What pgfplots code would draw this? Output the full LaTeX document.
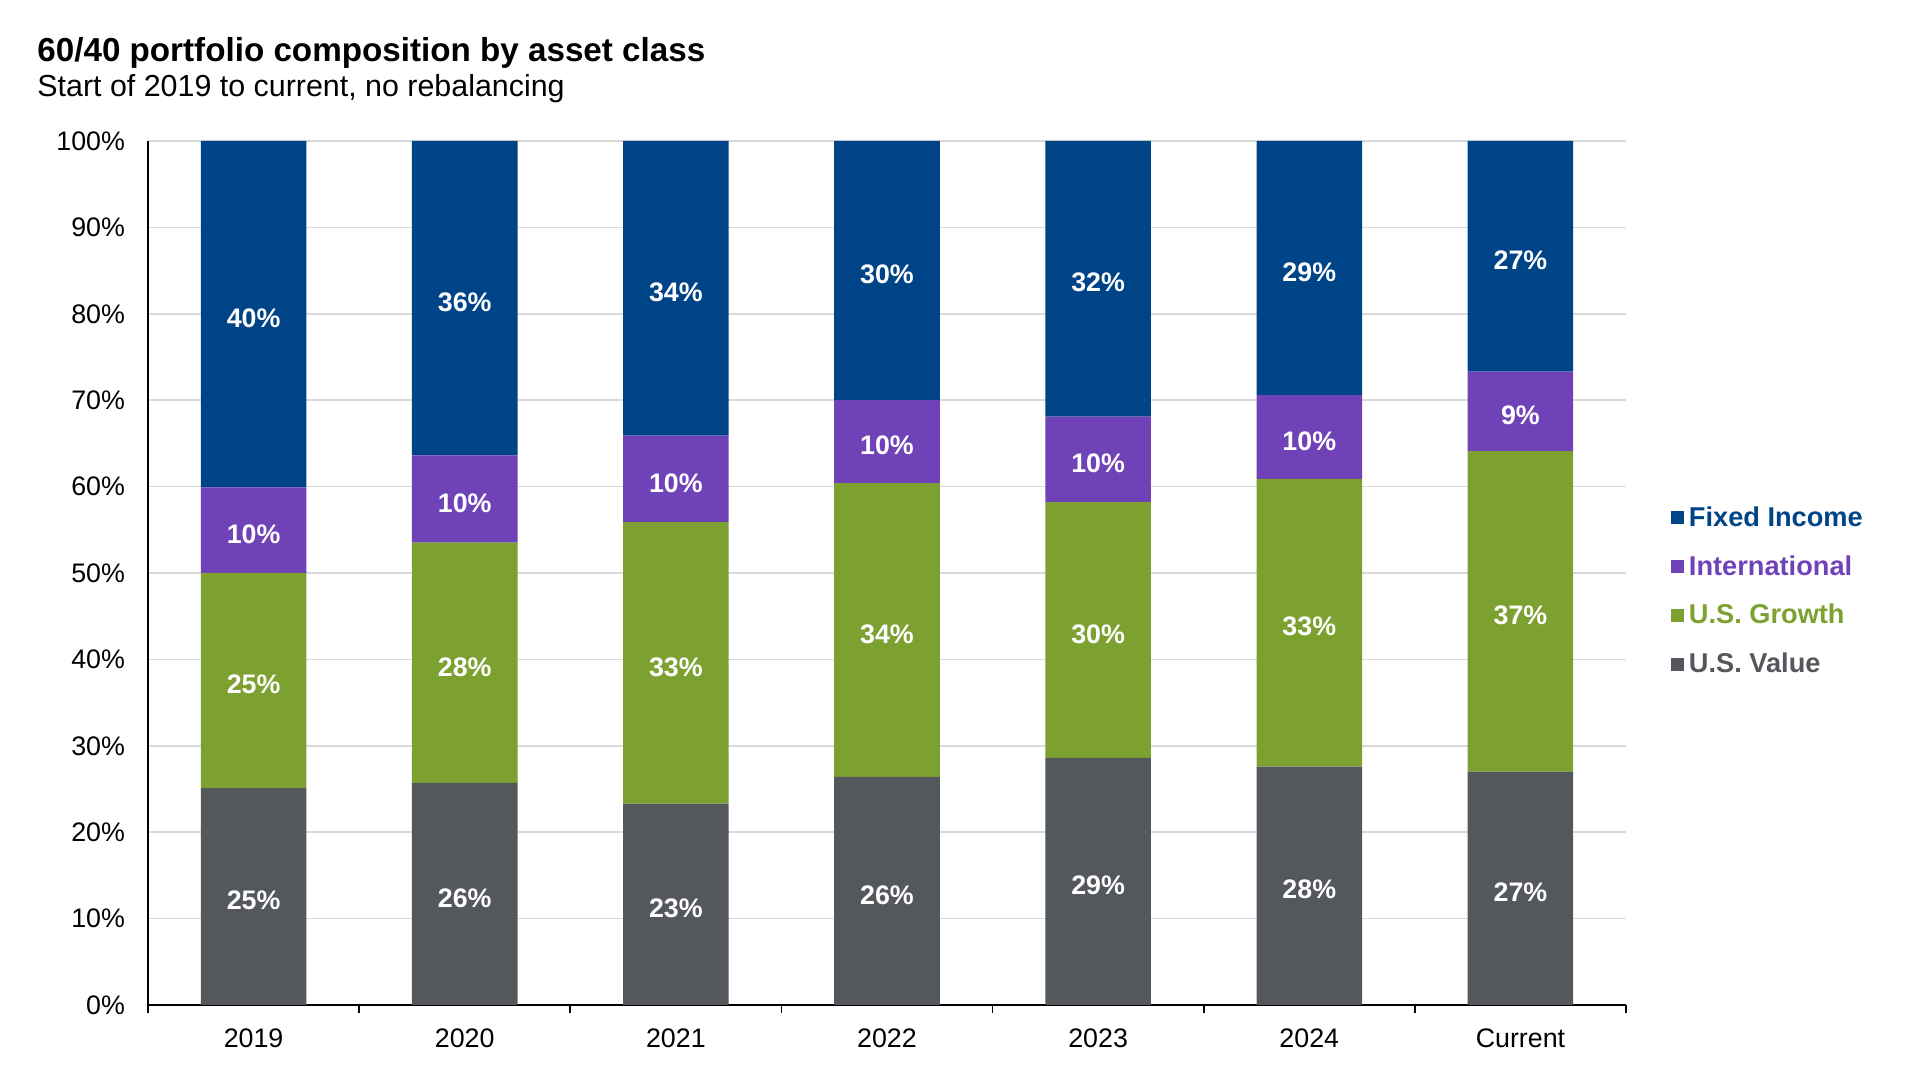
\documentclass[border=0pt]{standalone}
\usepackage{pgfplots}
\pgfplotsset{compat=1.18}
\usepackage{pgfplotstable}
\usepackage{fontspec}
\setmainfont{Liberation Sans}

\definecolor{fixedc}{HTML}{004488}
\definecolor{intlc}{HTML}{7042B8}
\definecolor{growthc}{HTML}{7DA130}
\definecolor{valuec}{HTML}{54575B}
\definecolor{gridc}{HTML}{D9D9D9}

% segment shares, in % of the portfolio
\pgfplotstableread{
x value growth intl fixed
0 25.1 24.9  9.9 40.1
1 25.7 27.8 10.1 36.4
2 23.3 32.6 10.0 34.1
3 26.4 34.0  9.6 30.0
4 28.6 29.6  9.9 31.9
5 27.6 33.3  9.7 29.4
6 27.0 37.1  9.2 26.7
}\shares

% label positions (middle of each segment) and label text
\pgfplotstableread{
x y lab
0 12.55 25
0 37.55 25
0 54.95 10
0 79.95 40
1 12.85 26
1 39.60 28
1 58.55 10
1 81.80 36
2 11.65 23
2 39.60 33
2 60.90 10
2 82.95 34
3 13.20 26
3 43.40 34
3 65.20 10
3 85.00 30
4 14.30 29
4 43.40 30
4 63.15 10
4 84.05 32
5 13.80 28
5 44.25 33
5 65.75 10
5 85.30 29
6 13.50 27
6 45.55 37
6 68.70 9
6 86.65 27
}\labels

\pgfplotsset{
  frame/.style={
    at={(74pt,37pt)}, anchor=south west, scale only axis,
    width=739pt, height=432pt,
    xmin=-0.5, xmax=6.5, ymin=0, ymax=100,
  }
}

\begin{document}
\begin{tikzpicture}
\path (0,0) rectangle (960pt,539.5pt);
\node[anchor=base west, inner sep=0pt, font=\bfseries\fontsize{16.6}{19}\selectfont] at (18.5pt,508.5pt) {60/40 portfolio composition by asset class};
\node[anchor=base west, inner sep=0pt, font=\fontsize{15.2}{18}\selectfont] at (18.5pt,491pt) {Start of 2019 to current, no rebalancing};

\begin{axis}[
  frame,
  ybar stacked,
  bar width=0.5,
  xtick={0,...,6},
  xticklabels={2019,2020,2021,2022,2023,2024,Current},
  minor xtick={-0.5,0.5,...,6.5},
  ytick={0,10,...,100},
  yticklabels={0\%,10\%,20\%,30\%,40\%,50\%,60\%,70\%,80\%,90\%,100\%},
  major tick length=0pt,
  minor tick length=4pt,
  tick align=outside,
  axis x line*=bottom,
  axis y line*=left,
  axis line style={-, black, line width=1pt},
  minor tick style={black, line width=0.9pt},
  ymajorgrids,
  grid style={draw=gridc, line width=0.8pt},
  tick label style={font=\fontsize{13.4}{16}\selectfont, text=black},
  xticklabel style={yshift=-8.5pt},
  yticklabel style={xshift=-8pt},
  reverse legend,
  legend image code/.code={\fill[#1] (0pt,-3.2pt) rectangle (6.5pt,3.3pt);},
  legend style={at={(1.03,0.479)}, anchor=west, draw=none, fill=none,
    inner sep=0pt, row sep=9pt,
    font=\bfseries\fontsize{13.6}{16}\selectfont,
    cells={anchor=west},
    nodes={inner xsep=2.6pt}},
]
\addplot[fill=valuec, draw=none] table[x=x, y=value] {\shares};
\addplot[fill=growthc, draw=none] table[x=x, y=growth] {\shares};
\addplot[fill=intlc, draw=none] table[x=x, y=intl] {\shares};
\addplot[fill=fixedc, draw=none] table[x=x, y=fixed] {\shares};
\legend{\textcolor{valuec}{U.S. Value},\textcolor{growthc}{U.S. Growth},\textcolor{intlc}{International},\textcolor{fixedc}{Fixed Income}}
\end{axis}

\begin{axis}[frame, hide axis]
\addplot[only marks, mark=*, mark size=0pt, mark options={draw=none, fill=none},
  point meta=explicit symbolic,
  nodes near coords={\pgfplotspointmeta\%},
  nodes near coords style={anchor=center, yshift=-2pt, text=white, font=\bfseries\fontsize{13.4}{16}\selectfont}]
  table[x=x, y=y, meta=lab] {\labels};
\end{axis}
\end{tikzpicture}
\end{document}
